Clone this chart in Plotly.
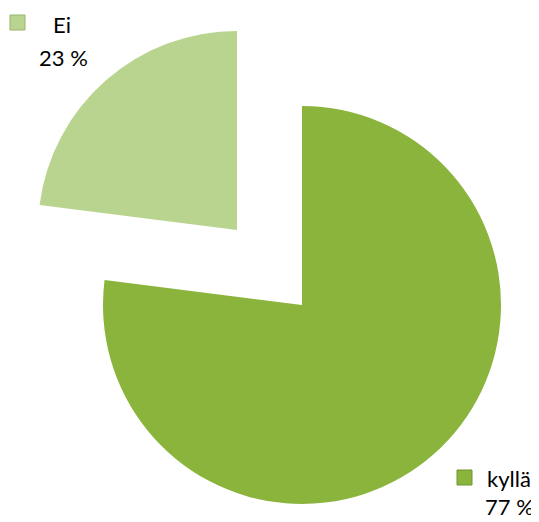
import plotly.graph_objects as go

labels = ["kyllä", "Ei"]
values = [77, 23]
colors = ["#8AB43C", "#B9D48E"]
edge_colors = ["#6F9330", "#97B56C"]

# page is offset by the default 8px body margin
OFF = 8
W, H = 539 - OFF, 522 - OFF


def px(x):
    return (x - OFF) / W


def py(y):
    return 1 - (y - OFF) / H


fig = go.Figure()

# main (kyllä) pie, the Ei slice hidden
fig.add_trace(go.Pie(
    labels=labels, values=values, sort=False, direction="clockwise", rotation=0,
    marker=dict(colors=[colors[0], "rgba(0,0,0,0)"], line=dict(width=0)),
    textinfo="none", hoverinfo="label+percent", showlegend=False,
    domain=dict(x=[px(103), px(501)], y=[py(504), py(106)]),
))
# exploded (Ei) slice, the kyllä slice hidden
fig.add_trace(go.Pie(
    labels=labels, values=values, sort=False, direction="clockwise", rotation=0,
    marker=dict(colors=["rgba(0,0,0,0)", colors[1]], line=dict(width=0)),
    textinfo="none", hoverinfo="label+percent", showlegend=False,
    domain=dict(x=[px(38), px(436)], y=[py(429), py(31)]),
))

total = sum(values)
FONT = dict(family="Lato, Carlito, Calibri, sans-serif", size=22, color="#000000")
# name: center x, middle y; pct: center x, y, yanchor; key: left x, top y (page px)
label_pos = {
    "kyllä": (509, 478, 509, 521, "bottom", 457, 470),
    "Ei": (62, 24, 63, 57, "middle", 10, 15),
}
for lab, val, col, ec in zip(labels, values, colors, edge_colors):
    nx, ny, qx, qy, qa, kx, ky = label_pos[lab]
    pct = round(100 * val / total)
    fig.add_annotation(
        x=px(nx), y=py(ny), xref="paper", yref="paper", text=lab,
        showarrow=False, xanchor="center", yanchor="middle", font=FONT,
    )
    fig.add_annotation(
        x=px(qx), y=py(qy), xref="paper", yref="paper", text=f"{pct} %",
        showarrow=False, xanchor="center", yanchor=qa, borderpad=0, font=FONT,
    )
    fig.add_shape(
        type="rect", xref="paper", yref="paper",
        x0=px(kx), x1=px(kx + 15), y0=py(ky + 15), y1=py(ky),
        fillcolor=col, line=dict(color=ec, width=1),
    )

fig.update_layout(
    width=W, height=H,
    margin=dict(l=0, r=0, t=0, b=0),
    paper_bgcolor="#FFFFFF", plot_bgcolor="#FFFFFF",
)

fig.write_html("out.html")
